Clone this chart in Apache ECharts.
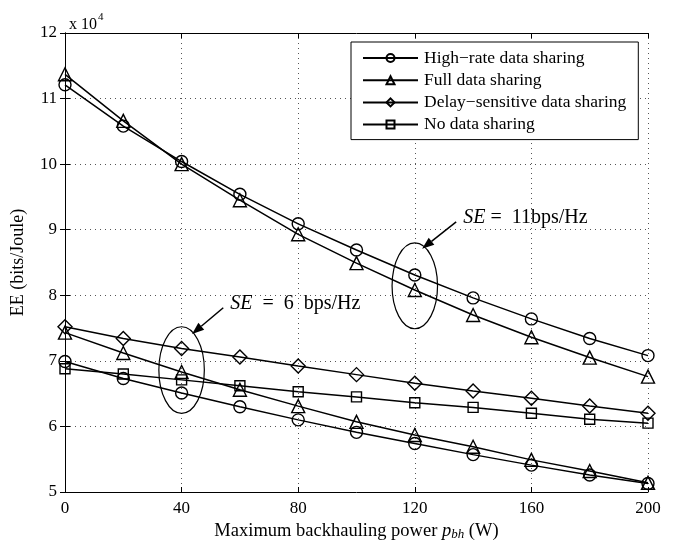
<!DOCTYPE html>
<html>
<head>
<meta charset="utf-8">
<script src="https://cdn.jsdelivr.net/npm/echarts@6/dist/echarts.min.js"></script>
<style>
  html, body { margin: 0; padding: 0; background: #fff; }
  #chart { width: 674px; height: 542px; }
</style>
</head>
<body>
<div id="chart"></div>
<script>
// backhauling power (W)
const powers = [0, 20, 40, 60, 80, 100, 120, 140, 160, 180, 200]

// EE values, in units of 10^4 bits/Joule
const highRate11 = [11.21, 10.58, 10.04, 9.54, 9.09, 8.69, 8.31, 7.96, 7.64, 7.34, 7.08]
const full11 = [11.37, 10.66, 10.00, 9.45, 8.93, 8.49, 8.08, 7.70, 7.36, 7.05, 6.76]
const delay6 = [7.52, 7.34, 7.19, 7.06, 6.92, 6.79, 6.66, 6.54, 6.43, 6.31, 6.20]
const none6 = [6.88, 6.80, 6.71, 6.62, 6.53, 6.45, 6.36, 6.29, 6.20, 6.11, 6.05]
const full6 = [7.43, 7.12, 6.83, 6.56, 6.31, 6.07, 5.87, 5.69, 5.49, 5.32, 5.14]
const highRate6 = [6.99, 6.73, 6.51, 6.30, 6.10, 5.91, 5.74, 5.57, 5.41, 5.26, 5.13]

const xTicks = [0, 40, 80, 120, 160, 200]
const names = ['High\u2212rate data sharing', 'Full data sharing', 'Delay\u2212sensitive data sharing', 'No data sharing']

const font = 'Liberation Serif, Times New Roman, serif'

function makeSeries(name, values, symbol, size) {
  return {
    name: name,
    type: 'line',
    data: powers.map((p, i) => [p, values[i]]),
    symbol: symbol,
    symbolSize: size,
    showAllSymbol: true,
    lineStyle: { color: '#000', width: 1.5 },
    itemStyle: { color: 'transparent', borderColor: '#000', borderWidth: 1.4 },
    emphasis: { disabled: true },
    animation: false,
    z: 3
  }
}

const chart = echarts.init(document.getElementById('chart'))

chart.setOption({
  backgroundColor: '#fff',
  textStyle: { fontFamily: font, color: '#000' },
  grid: { left: 65, right: 26, top: 33, bottom: 50, containLabel: false, outerBoundsMode: 'none' },
  title: {
    text: '{a|x 10}{s|4}',
    left: 64,
    top: 7,
    textStyle: {
      fontWeight: 'normal',
      rich: {
        a: { fontFamily: font, fontSize: 16, fontWeight: 'normal', color: '#000', verticalAlign: 'bottom' },
        s: { fontFamily: font, fontSize: 11, fontWeight: 'normal', color: '#000', padding: [0, 0, 10, 1] }
      }
    }
  },
  legend: {
    data: names,
    orient: 'vertical',
    left: 351,
    top: 42,
    padding: [7, 12, 6, 11],
    itemWidth: 55,
    itemHeight: 10,
    itemGap: 4.2,
    backgroundColor: '#fff',
    borderColor: '#000',
    borderWidth: 1,
    selectedMode: false,
    textStyle: { fontFamily: font, fontSize: 17.5, color: '#000', padding: [0, 0, 0, 1] }
  },
  xAxis: [
    {
      type: 'value',
      min: 0,
      max: 200,
      interval: 40,
      name: '{a|Maximum backhauling power }{i|p}{s|bh}{a| (W)}',
      nameLocation: 'middle',
      nameGap: 27,
      nameTextStyle: {
        rich: {
          a: { fontFamily: font, fontSize: 18.5, color: '#000' },
          i: { fontFamily: font, fontSize: 18.5, fontStyle: 'italic', color: '#000' },
          s: { fontFamily: font, fontSize: 13, fontStyle: 'italic', color: '#000', padding: [7, 0, 0, 0] }
        }
      },
      axisLine: { lineStyle: { color: '#000', width: 1 } },
      axisTick: { inside: true, length: 5, lineStyle: { color: '#000' } },
      axisLabel: {
        color: '#000', fontFamily: font, fontSize: 17, margin: 8,
        formatter: v => xTicks.indexOf(v) >= 0 ? String(v) : ''
      },
      splitLine: { show: true, lineStyle: { color: '#555', type: [1, 4], width: 1 } }
    },
    {
      type: 'value',
      position: 'top',
      min: 0,
      max: 200,
      interval: 40,
      axisLine: { lineStyle: { color: '#000', width: 1 } },
      axisTick: { inside: true, length: 5, lineStyle: { color: '#000' } },
      axisLabel: { show: false },
      splitLine: { show: false }
    }
  ],
  yAxis: [
    {
      type: 'value',
      min: 5,
      max: 12,
      interval: 1,
      name: 'EE (bits/Joule)',
      nameLocation: 'middle',
      nameGap: 38,
      nameTextStyle: { fontFamily: font, fontSize: 18, color: '#000' },
      axisLine: { show: true, lineStyle: { color: '#000', width: 1 } },
      axisTick: { show: true, inside: true, length: 5, lineStyle: { color: '#000' } },
      axisLabel: { color: '#000', fontFamily: font, fontSize: 17, margin: 8 },
      splitLine: { show: true, lineStyle: { color: '#555', type: [1, 4], width: 1 } }
    },
    {
      type: 'value',
      position: 'right',
      min: 5,
      max: 12,
      interval: 1,
      axisLine: { show: true, lineStyle: { color: '#000', width: 1 } },
      axisTick: { show: true, inside: true, length: 5, lineStyle: { color: '#000' } },
      axisLabel: { show: false },
      splitLine: { show: false }
    }
  ],
  series: [
    makeSeries(names[0], highRate11, 'circle', 12),
    makeSeries(names[1], full11, 'triangle', 13),
    makeSeries(names[0], highRate6, 'circle', 12),
    makeSeries(names[1], full6, 'triangle', 13),
    makeSeries(names[2], delay6, 'diamond', 14),
    makeSeries(names[3], none6, 'rect', 10)
  ]
})

// annotations: ellipse round each group, arrow and label, placed in data space
const notes = [
  { x: 120, yTop: 8.80, yBottom: 7.49, halfWidth: 7.8, from: [134.2, 9.12], to: [122.5, 8.71], text: ' =  11bps/Hz' },
  { x: 40, yTop: 7.52, yBottom: 6.20, halfWidth: 7.8, from: [54.3, 7.81], to: [43.6, 7.41], text: '  =  6  bps/Hz' }
]

const px = p => chart.convertToPixel({ gridIndex: 0 }, p)
const graphics = []
notes.forEach(n => {
  const top = px([n.x, n.yTop])
  const bottom = px([n.x, n.yBottom])
  const side = px([n.x + n.halfWidth, n.yTop])
  graphics.push({
    type: 'ellipse',
    shape: { cx: top[0], cy: (top[1] + bottom[1]) / 2, rx: side[0] - top[0], ry: (bottom[1] - top[1]) / 2 },
    style: { fill: 'none', stroke: '#000', lineWidth: 1.2 },
    z: 10
  })
  const a = px(n.from)
  const b = px(n.to)
  const ang = Math.atan2(b[1] - a[1], b[0] - a[0])
  const len = 12, wid = 4.5
  const base = [b[0] - len * Math.cos(ang), b[1] - len * Math.sin(ang)]
  graphics.push({
    type: 'line',
    shape: { x1: a[0], y1: a[1], x2: base[0], y2: base[1] },
    style: { stroke: '#000', lineWidth: 1.5 },
    z: 10
  })
  graphics.push({
    type: 'polygon',
    shape: {
      points: [
        b,
        [base[0] + wid * Math.sin(ang), base[1] - wid * Math.cos(ang)],
        [base[0] - wid * Math.sin(ang), base[1] + wid * Math.cos(ang)]
      ]
    },
    style: { fill: '#000' },
    z: 10
  })
  graphics.push({
    type: 'text',
    x: a[0] + 7,
    y: a[1] - 4,
    style: {
      text: '{i|SE}{a|' + n.text + '}',
      verticalAlign: 'middle',
      rich: {
        i: { fontFamily: font, fontSize: 20, fontStyle: 'italic', fill: '#000' },
        a: { fontFamily: font, fontSize: 20, fill: '#000' }
      }
    },
    z: 10
  })
})
chart.setOption({ graphic: graphics })
</script>
</body>
</html>
